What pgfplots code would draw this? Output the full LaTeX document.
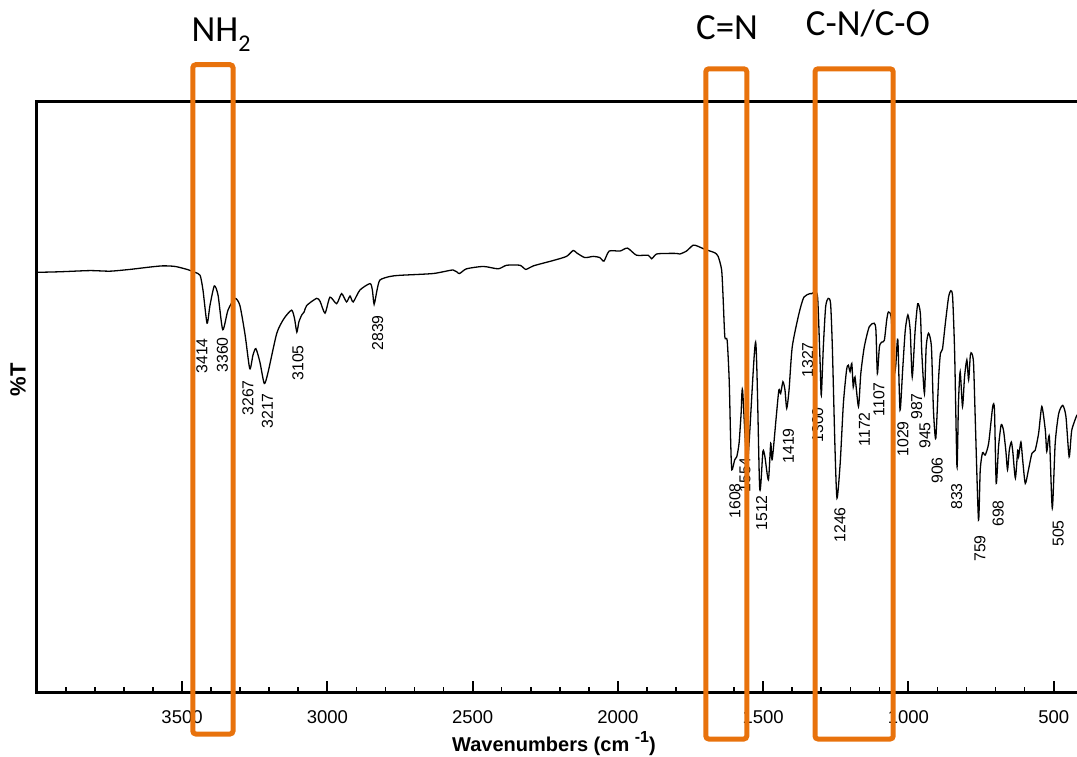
\documentclass[border=0pt]{standalone}
\usepackage{pgfplots}
\pgfplotsset{compat=1.18}
\usepackage{pgfplotstable}
\usepackage{fontspec}
\setmainfont{Liberation Sans}
\newfontfamily\carlito{Carlito}
\definecolor{boxorange}{RGB}{232,114,12}

\pgfplotstableread{
wn T
4000 71.1
3920 71.2
3817 71.4
3748 71.3
3679 71.6
3610 72.0
3566 72.2
3524 72.1
3483 71.6
3456 71.1
3438 70.6
3428 68.1
3414 62.5
3404 65.5
3389 68.8
3376 67.2
3360 61.4
3342 64.7
3318 66.7
3301 65.5
3283 60.5
3267 54.8
3256 57.1
3246 58.2
3232 55.9
3217 52.3
3204 54.2
3174 60.8
3149 63.3
3123 64.7
3113 63.3
3105 61.0
3098 62.7
3088 63.9
3080 64.4
3071 65.5
3037 66.7
3025 66.2
3008 64.2
2991 66.9
2968 65.8
2951 67.5
2934 66.1
2922 67.1
2911 66.1
2888 68.1
2853 69.2
2845 68.1
2839 65.7
2829 68.1
2819 69.8
2785 70.4
2750 70.6
2636 70.9
2567 71.5
2546 70.9
2521 71.7
2463 72.1
2412 71.7
2383 72.3
2337 72.3
2317 71.6
2291 72.2
2223 73.1
2177 73.8
2154 74.8
2142 74.4
2114 73.6
2085 73.8
2062 73.6
2048 73.0
2030 74.7
1993 74.7
1967 75.2
1936 74.0
1896 74.0
1884 73.4
1867 74.2
1832 74.3
1798 74.3
1787 74.2
1764 74.7
1741 75.7
1724 75.5
1706 75.1
1683 74.7
1666 74.4
1655 73.8
1643 71.5
1638 66.9
1632 60.2
1624 59.6
1617 52.9
1612 42.7
1608 37.7
1598 39.4
1591 39.9
1583 42.2
1576 47.2
1571 51.2
1554 38.9
1526 59.3
1512 34.6
1501 40.8
1494 39.9
1482 36.0
1474 42.2
1469 39.4
1455 46.7
1446 51.2
1440 50.6
1432 52.6
1425 51.2
1419 48.1
1411 51.2
1400 58.5
1377 64.1
1360 66.9
1339 67.5
1333 67.5
1319 67.8
1312 66.4
1304 55.7
1300 50.3
1293 58.5
1285 65.3
1276 66.7
1268 65.8
1262 58.5
1253 41.6
1246 32.9
1235 38.8
1224 48.9
1213 54.6
1207 55.4
1201 54.3
1195 55.7
1190 51.7
1184 53.4
1172 48.4
1164 54.0
1152 58.5
1135 61.9
1118 62.5
1112 61.3
1107 54.0
1100 58.5
1092 59.3
1083 59.6
1075 63.0
1069 64.4
1059 63.3
1050 54.2
1044 55.2
1039 59.1
1036 59.2
1029 47.8
1020 54.6
1011 61.3
1002 63.9
994 61.3
987 53.4
977 61.3
968 65.8
959 64.1
954 57.4
945 50.6
939 58.5
931 60.8
921 58.5
914 47.8
906 43.0
896 53.4
890 57.4
883 58.1
873 62.5
862 66.9
854 68.0
848 66.9
841 57.4
833 38.2
828 48.9
822 54.3
814 48.4
807 53.4
799 56.3
793 52.9
787 57.1
782 57.4
776 55.7
770 46.1
759 29.2
753 37.7
745 40.6
736 40.2
724 42.2
710 48.4
704 47.8
698 35.4
690 41.6
681 45.3
673 44.4
665 41.0
659 37.7
653 41.0
646 42.4
641 40.8
632 36.3
624 41.0
621 39.9
613 42.4
607 39.4
598 35.4
587 37.7
575 40.5
564 41.0
552 43.9
541 48.4
529 44.4
524 40.8
515 43.3
505 31.2
495 42.2
483 47.2
469 48.6
458 46.7
447 39.9
438 44.4
420 47.0
}\spectrum

\begin{document}
\begin{tikzpicture}
\begin{axis}[
  at={(0,0)}, anchor=south west,
  scale only axis, width=520.1pt, height=295.6pt,
  x dir=reverse, xmin=420, xmax=4000, ymin=0, ymax=100,
  axis x line*=bottom, axis y line=none,
  axis line style={line width=1.3pt, black},
  xtick={500,1000,...,3500},
  minor xtick={500,600,...,3900},
  ytick=\empty,
  tick align=inside,
  major tick length=6pt, minor tick length=2.8pt,
  every major tick/.append style={line width=1pt, black},
  every minor tick/.append style={line width=0.8pt, black},
  xticklabel style={font=\fontsize{9.25}{11}\selectfont, anchor=base, yshift=-15.15pt},
  /pgf/number format/assume math mode=true,
  /pgf/number format/set thousands separator={},
  clip=false,
]
\addplot[black, line width=0.65pt, smooth, tension=0.4] table[x=wn,y=T]{\spectrum};
\end{axis}
\begin{scope}[x=0.5pt, y=-0.5pt, shift={(-36.8,-692.7)}]
  % frame: left and top
  \draw[line width=1.3pt, line cap=rect] (36.8,692.7) -- (36.8,101.5) -- (1077,101.5);
  % peak labels
  \begin{scope}[every node/.style={rotate=90, anchor=east, inner sep=0pt, font=\fontsize{7.9}{9}\selectfont}]
    \node at (202,338) {3414};
    \node at (222.5,337) {3360};
    \node at (248,380) {3267};
    \node at (267.5,393) {3217};
    \node at (298,345) {3105};
    \node at (377.7,315) {2839};
    \node at (735,483) {1608};
    \node at (745,457) {1554};
    \node at (761.7,495) {1512};
    \node at (788.5,428) {1419};
    \node at (807.7,342) {1327};
    \node at (817.7,407) {1300};
    \node at (840,507) {1246};
    \node at (864.3,412) {1172};
    \node at (879,382) {1107};
    \node at (903,421) {1029};
    \node at (916.7,393) {987};
    \node at (925,422) {945};
    \node at (937.3,457) {906};
    \node at (956.7,483) {833};
    \node at (980,535) {759};
    \node at (998.3,500) {698};
    \node at (1058.3,520) {505};
  \end{scope}
  % axis titles
  \node[anchor=base, inner sep=0pt, font=\bfseries\fontsize{10}{12}\selectfont] at (554,751) {Wavenumbers (cm \raisebox{4.5pt}{\fontsize{8}{8}\selectfont -1})};
  \node[rotate=90, inner sep=0pt, font=\bfseries\fontsize{11}{13}\selectfont] at (18,380) {\%T};
  % group labels
  \node[anchor=base, inner sep=0pt, font=\carlito\fontsize{18.4}{22}\selectfont] at (221,42) {NH\raisebox{-0.55ex}{\fontsize{12}{12}\selectfont 2}};
  \node[anchor=base, inner sep=0pt, font=\carlito\fontsize{18.4}{22}\selectfont] at (727,40) {C=N};
  \node[anchor=base, inner sep=0pt, font=\carlito\fontsize{18.4}{22}\selectfont] at (868,36) {C-N/C-O};
  % orange boxes
  \draw[boxorange, line width=2.5pt, rounded corners=1.5pt] (192.8,64.7) rectangle (233,734);
  \draw[boxorange, line width=2.5pt, rounded corners=1.5pt] (705.8,68.8) rectangle (746.8,739);
  \draw[boxorange, line width=2.5pt, rounded corners=1.5pt] (815,68.8) rectangle (893.2,739);
  \pgfresetboundingbox
  \path[use as bounding box] (0,0) rectangle (1077,756);
\end{scope}
\end{tikzpicture}
\end{document}
